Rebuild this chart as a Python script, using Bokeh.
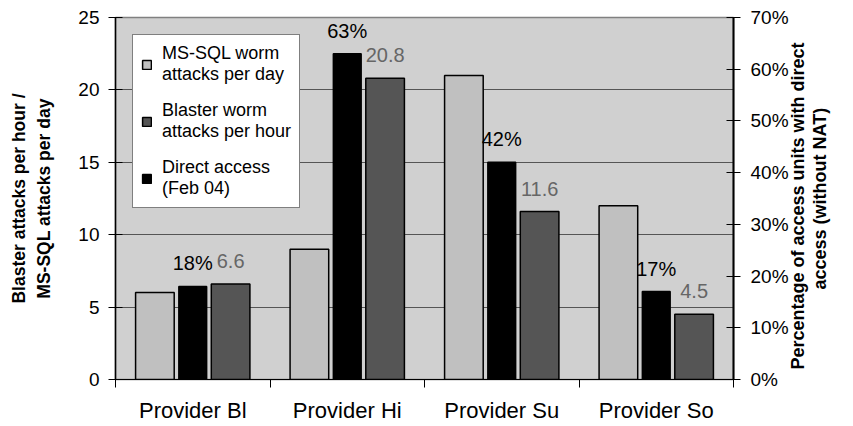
import math
from bokeh.plotting import figure
from bokeh.models import (Range1d, LinearAxis, FixedTicker, ColumnDataSource, Legend,
                          LegendItem, PrintfTickFormatter)
from bokeh.transform import dodge
from bokeh.core.properties import value
from bokeh.embed import file_html
from bokeh.resources import INLINE

# ---- data ----
providers = ["Provider Bl", "Provider Hi", "Provider Su", "Provider So"]
mssql_per_day = [6.0, 9.0, 21.0, 12.0]
blaster_per_hour = [6.6, 20.8, 11.6, 4.5]
direct_access_pct = [18, 63, 42, 17]
left_ticks = [0, 5, 10, 15, 20, 25]
right_ticks = [0, 10, 20, 30, 40, 50, 60, 70]
series_names = ["MS-SQL worm\nattacks per day", "Blaster worm\nattacks per hour", "Direct access\n(Feb 04)"]
left_title = "Blaster attacks per hour /\nMS-SQL attacks per day"
right_title_lines = ["Percentage of access units with direct", "access (without NAT)"]

FONT = "Liberation Sans"
LEFT_MAX = 25
RIGHT_MAX = 70
NBSP = "\u00a0"

centers = [i + 0.5 for i in range(len(providers))]
boundaries = [i for i in range(len(providers) + 1)]

src = ColumnDataSource(dict(
    x=centers,
    ms=mssql_per_day,
    bl=blaster_per_hour,
    da=direct_access_pct,
    bl_label=[f"{v:.1f}" for v in blaster_per_hour],
    da_label=[f"{v}%" for v in direct_access_pct],
))

p = figure(width=853, height=425, x_range=Range1d(0, len(providers)), y_range=Range1d(0, LEFT_MAX),
           output_backend="svg", toolbar_location=None,
           min_border_left=115, min_border_right=120, min_border_top=17, min_border_bottom=46)
p.extra_y_ranges = {"pct": Range1d(0, RIGHT_MAX)}
p.background_fill_color = "#d0d0d0"
p.border_fill_color = "white"
p.outline_line_color = "#808080"
p.outline_line_width = 1.5

r1 = p.vbar(x=dodge("x", -0.245), top="ms", width=0.25, source=src,
            fill_color="#c0c0c0", line_color="black", line_width=1.5)
r2 = p.vbar(x=dodge("x", 0.245), top="bl", width=0.25, source=src,
            fill_color="#555555", line_color="black", line_width=1.5)
r3 = p.vbar(x="x", top="da", width=0.18, source=src, y_range_name="pct",
            fill_color="black", line_color="black", line_width=1.5)

p.text(x="x", y="da", text="da_label", source=src, y_range_name="pct",
       text_align="center", text_baseline="alphabetic", y_offset=-23,
       text_font=value(FONT), text_font_size="20px", text_color="black")
p.text(x=dodge("x", 0.245), y="bl", text="bl_label", source=src,
       text_align="center", text_baseline="alphabetic", y_offset=-23,
       text_font=value(FONT), text_font_size="20px", text_color="#666666")

# x axis
xa = p.xaxis[0]
xa.ticker = FixedTicker(ticks=centers, minor_ticks=boundaries)
xa.major_label_overrides = {c: n for c, n in zip(centers, providers)}
xa.major_tick_in = 0
xa.major_tick_out = 0
xa.minor_tick_in = 0
xa.minor_tick_out = 8
xa.minor_tick_line_color = "black"
xa.axis_line_color = "black"
xa.major_label_standoff = 10
xa.major_label_text_font = FONT
xa.major_label_text_font_size = "22px"
xa.major_label_text_color = "black"
p.xgrid.grid_line_color = None

# left axis
ya = p.yaxis[0]
ya.ticker = FixedTicker(ticks=left_ticks)
ya.major_tick_in = 7
ya.major_tick_out = 7
ya.minor_tick_line_color = None
ya.major_tick_line_color = "black"
ya.axis_line_color = "black"
ya.axis_line_width = 1.5
ya.major_label_standoff = 9
ya.major_label_text_font = FONT
ya.major_label_text_font_size = "19px"
ya.major_label_text_color = "black"
ya.axis_label = left_title
ya.axis_label_text_font = FONT
ya.axis_label_text_font_style = "bold"
ya.axis_label_text_font_size = "17.5px"
ya.axis_label_text_color = "black"
ya.axis_label_text_line_height = 1.25
ya.axis_label_standoff = 21
p.ygrid.ticker = FixedTicker(ticks=left_ticks)
p.ygrid.grid_line_color = "#555555"
p.ygrid.grid_line_width = 1

# right axis
ra = LinearAxis(y_range_name="pct", ticker=FixedTicker(ticks=right_ticks),
                formatter=PrintfTickFormatter(format="%d%%"))
ra.major_tick_in = 7
ra.major_tick_out = 7
ra.minor_tick_line_color = None
ra.major_tick_line_color = "black"
ra.axis_line_color = "black"
ra.axis_line_width = 2
ra.major_label_standoff = 10
ra.major_label_text_font = FONT
ra.major_label_text_font_size = "19px"
ra.major_label_text_color = "black"
ra.axis_label = NBSP * 2 + right_title_lines[0] + "\n" + NBSP * 18 + right_title_lines[1]
ra.axis_label_text_font = FONT
ra.axis_label_text_font_style = "bold"
ra.axis_label_text_font_size = "18px"
ra.axis_label_text_color = "black"
ra.axis_label_text_line_height = 1.1
ra.axis_label_standoff = 17
ra.axis_label_orientation = math.pi / 2
ra.axis_label_align = "start"
p.add_layout(ra, "right")

legend = Legend(items=[LegendItem(label=series_names[0], renderers=[r1]),
                       LegendItem(label=series_names[1], renderers=[r2]),
                       LegendItem(label=series_names[2], renderers=[r3])],
                location=(17, 171))
legend.label_text_font = FONT
legend.label_text_font_size = "18px"
legend.label_text_color = "black"
legend.label_text_line_height = 1.3
legend.glyph_width = 11
legend.glyph_height = 11
legend.label_standoff = 10
legend.spacing = 15
legend.padding = 8
legend.margin = 0
legend.border_line_color = "black"
legend.border_line_width = 1
legend.background_fill_color = "white"
legend.background_fill_alpha = 1
p.add_layout(legend)

open("out.html", "w").write(file_html(p, INLINE))
